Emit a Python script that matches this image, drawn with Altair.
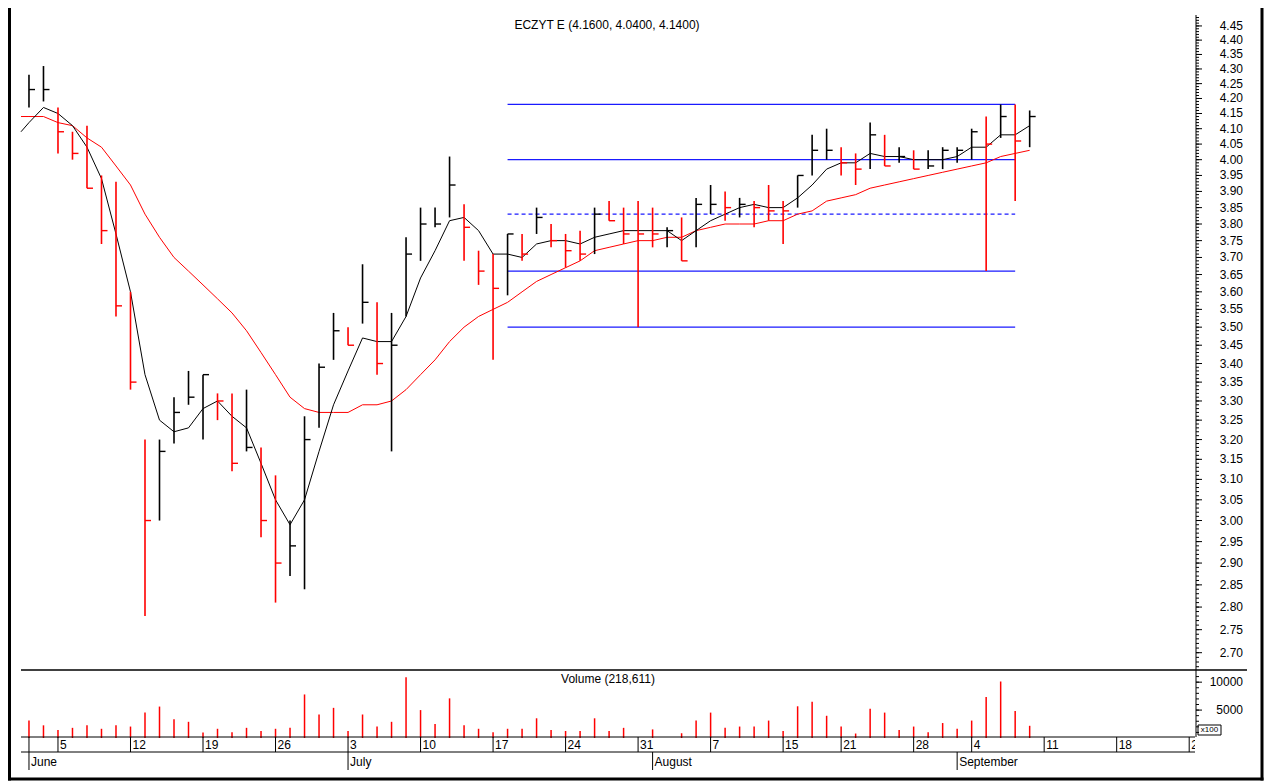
import altair as alt
import pandas as pd

# ---------------- data ----------------
# trading-day index 0 = 1 June, 69 = 8 September
highs = [4.28, 4.31, 4.17, 4.09, 4.11, 3.95, 3.93, 3.60, 3.20, 3.20,
         3.31, 3.38, 3.37, 3.32, 3.32, 3.33, 3.18, 3.11, 3.00, 3.26,
         3.40, 3.54, 3.50, 3.68, 3.57, 3.54, 3.76, 3.85, 3.85, 4.01,
         3.86, 3.72, 3.71, 3.77, 3.77, 3.85, 3.80, 3.77, 3.78, 3.85,
         3.87, 3.85, 3.87, 3.85, 3.79, 3.82, 3.88, 3.92, 3.90, 3.88,
         3.87, 3.92, 3.87, 3.95, 4.08, 4.10, 4.04, 4.02, 4.12, 4.08,
         4.04, 4.03, 4.03, 4.04, 4.04, 4.10, 4.14, 4.18, 4.18, 4.16]
lows = [4.17, 4.19, 4.02, 4.00, 3.91, 3.74, 3.53, 3.33, 2.78, 3.00,
        3.19, 3.29, 3.20, 3.25, 3.12, 3.17, 2.96, 2.81, 2.87, 2.84,
        3.23, 3.41, 3.45, 3.51, 3.37, 3.17, 3.53, 3.69, 3.79, 3.82,
        3.69, 3.62, 3.41, 3.59, 3.69, 3.77, 3.73, 3.67, 3.69, 3.71,
        3.81, 3.74, 3.50, 3.73, 3.73, 3.69, 3.73, 3.83, 3.81, 3.82,
        3.79, 3.81, 3.74, 3.85, 3.95, 4.00, 3.95, 3.92, 3.97, 3.98,
        3.99, 3.97, 3.97, 3.97, 3.99, 4.00, 3.66, 4.07, 3.87, 4.04]
closes = [4.23, 4.23, 4.09, 4.02, 3.91, 3.78, 3.56, 3.35, 3.00, 3.17,
          3.27, 3.31, 3.37, 3.30, 3.14, 3.18, 3.00, 2.90, 2.94, 3.20,
          3.39, 3.49, 3.45, 3.57, 3.40, 3.45, 3.71, 3.80, 3.80, 3.92,
          3.79, 3.66, 3.61, 3.77, 3.71, 3.82, 3.75, 3.72, 3.71, 3.83,
          3.81, 3.77, 3.77, 3.77, 3.78, 3.69, 3.86, 3.86, 3.85, 3.86,
          3.85, 3.84, 3.84, 3.95, 4.03, 4.03, 3.99, 3.97, 4.08, 3.98,
          4.01, 3.97, 3.98, 4.03, 4.03, 4.09, 4.05, 4.14, 4.06, 4.14]
dirs = ["u", "u", "d", "d", "d", "d", "d", "d", "d", "u",
        "u", "u", "u", "d", "d", "u", "d", "d", "u", "u",
        "u", "u", "d", "u", "d", "u", "u", "u", "u", "u",
        "d", "d", "d", "u", "d", "u", "d", "d", "d", "u",
        "d", "d", "d", "d", "u", "d", "u", "u", "d", "u",
        "d", "d", "d", "u", "u", "u", "d", "d", "u", "d",
        "u", "d", "u", "u", "u", "u", "d", "u", "d", "u"]
volumes = [3120, 2270, 1420, 1820, 2270, 1650, 2270, 2050, 4550, 5630,
           3360, 2900, 970, 1650, 1020, 1820, 1250, 1650, 1820, 7800,
           4210, 5400, 1250, 4210, 2050, 2900, 10900, 5000, 2500, 7100,
           2270, 1650, 1020, 1650, 1650, 3530, 1420, 1250, 1250, 3530,
           1250, 1820, 0, 1540, 0, 850, 3120, 4550, 1820, 2050,
           2050, 3120, 1250, 5680, 6480, 3980, 2050, 800, 5240, 4550,
           1420, 2050, 1020, 2680, 1650, 3120, 7340, 10120, 4830, 2186]
# moving averages: first value is at the left edge of the plot
ma_fast = [4.09,
           4.12, 4.17, 4.15, 4.11, 4.04, 3.94, 3.77, 3.60, 3.37, 3.25,
           3.22, 3.23, 3.28, 3.30, 3.26, 3.23, 3.14, 3.05, 2.99, 3.05,
           3.17, 3.29, 3.38, 3.47, 3.46, 3.46, 3.53, 3.64, 3.72, 3.81,
           3.82, 3.78, 3.71, 3.71, 3.70, 3.74, 3.75, 3.75, 3.74, 3.76,
           3.77, 3.78, 3.78, 3.78, 3.78, 3.75, 3.78, 3.81, 3.83, 3.85,
           3.86, 3.85, 3.85, 3.88, 3.92, 3.97, 3.99, 3.99, 4.02, 4.01,
           4.01, 4.00, 4.00, 4.00, 4.01, 4.04, 4.04, 4.08, 4.08, 4.11]
ma_slow = [4.14,
           4.14, 4.14, 4.12, 4.11, 4.07, 4.04, 3.98, 3.92, 3.83, 3.76,
           3.70, 3.66, 3.62, 3.58, 3.54, 3.49, 3.43, 3.37, 3.31, 3.28,
           3.27, 3.27, 3.27, 3.29, 3.29, 3.30, 3.33, 3.37, 3.41, 3.46,
           3.50, 3.53, 3.55, 3.57, 3.60, 3.63, 3.65, 3.67, 3.69, 3.72,
           3.73, 3.74, 3.75, 3.75, 3.76, 3.76, 3.78, 3.79, 3.80, 3.80,
           3.80, 3.81, 3.81, 3.83, 3.84, 3.87, 3.88, 3.89, 3.91, 3.92,
           3.93, 3.94, 3.95, 3.96, 3.97, 3.98, 3.99, 4.01, 4.02, 4.03]
level_values = [4.18, 4.00, 3.83, 3.66, 3.50]
level_dashed = [False, False, True, False, False]
level_start, level_end = 33, 68

week_idx = [2, 7, 12, 17, 22, 27, 32, 37, 42, 47, 52, 56, 61, 65, 70, 75, 80]
week_lbl = ["5", "12", "19", "26", "3", "10", "17", "24", "31", "7", "15",
            "21", "28", "4", "11", "18", "25"]
month_idx = [0, 22, 43, 64]
month_lbl = ["June", "July", "August", "September"]

price_lbl = ["2.70", "2.75", "2.80", "2.85", "2.90", "2.95", "3.00", "3.05",
             "3.10", "3.15", "3.20", "3.25", "3.30", "3.35", "3.40", "3.45",
             "3.50", "3.55", "3.60", "3.65", "3.70", "3.75", "3.80", "3.85",
             "3.90", "3.95", "4.00", "4.05", "4.10", "4.15", "4.20", "4.25",
             "4.30", "4.35", "4.40", "4.45"]
vol_lbl = ["5000", "10000"]

title_text = "ECZYT E (4.1600, 4.0400, 4.1400)"
vol_title = "Volume (218,611)"

# ---------------- tables ----------------
n = len(closes)
days = list(range(n))
bars = pd.DataFrame({"i": days, "high": highs, "low": lows, "close": closes,
                     "dir": dirs, "vol": volumes})
ma = pd.DataFrame({"i": [-0.55] + days, "fast": ma_fast, "slow": ma_slow})
levels = pd.DataFrame({"v": level_values, "dash": level_dashed,
                       "s": [level_start] * len(level_values),
                       "e": [level_end] * len(level_values)})
weeks = pd.DataFrame({"i": week_idx, "lbl": week_lbl})
months = pd.DataFrame({"i": month_idx, "lbl": month_lbl})
plab = pd.DataFrame({"v": [float(s) for s in price_lbl], "lbl": price_lbl})
pminor = pd.DataFrame({"v": [round(2.67 + 0.01 * k, 2) for k in range(182)]})
vlab = pd.DataFrame({"v": [float(s) for s in vol_lbl], "lbl": vol_lbl})
vminor = pd.DataFrame({"v": [1000.0 * k for k in range(1, 12)]})
one = pd.DataFrame({"k": [0]})

# ---------------- layout ----------------
W, H = 1174, 753
FONT = "Liberation Sans"
xs = alt.Scale(domain=[-0.55, 80.4], range=[0, W], nice=False, zero=False)
ps = alt.Scale(type="log", domain=[2.663, 4.489], range=[655, 0], nice=False)
vs = alt.Scale(domain=[0, 12000], range=[723, 656], nice=False, zero=False)
cs = alt.Scale(domain=["u", "d"], range=["#000000", "#ff0000"])

X = alt.X("i:Q", scale=xs, axis=None)


def P(f):
    return alt.Y(f + ":Q", scale=ps, axis=None)


def deco(x1, x2, y1, y2, color="black", sw=1.0):
    return alt.Chart(one).mark_rule(color=color, strokeWidth=sw).encode(
        x=alt.value(x1), x2=alt.value(x2), y=alt.value(y1), y2=alt.value(y2))


def label(s, x, y, size=12, align="center"):
    return alt.Chart(one).mark_text(text=s, font=FONT, fontSize=size, align=align,
                                    baseline="middle", color="black").encode(
        x=alt.value(x), y=alt.value(y))


hl = alt.Chart(bars).mark_rule(strokeWidth=1.6).encode(
    x=X, y=P("high"), y2="low",
    color=alt.Color("dir:N", scale=cs, legend=None))
ct = alt.Chart(bars).mark_rule(strokeWidth=1.4, x2Offset=6).encode(
    x=X, x2="i", y=P("close"),
    color=alt.Color("dir:N", scale=cs, legend=None))
fast = alt.Chart(ma).mark_line(color="#000000", strokeWidth=1).encode(x=X, y=P("fast"))
slow = alt.Chart(ma).mark_line(color="#ff0000", strokeWidth=1).encode(x=X, y=P("slow"))
lev_solid = alt.Chart(levels).transform_filter("!datum.dash").mark_rule(
    color="#1a1aff", strokeWidth=1.3).encode(
    x=alt.X("s:Q", scale=xs, axis=None), x2="e", y=P("v"))
lev_dash = alt.Chart(levels).transform_filter("datum.dash").mark_rule(
    color="#1a1aff", strokeWidth=1.3, strokeDash=[4, 3]).encode(
    x=alt.X("s:Q", scale=xs, axis=None), x2="e", y=P("v"))

vol = alt.Chart(bars).mark_rule(color="#ff0000", strokeWidth=1.5).encode(
    x=X, y=alt.Y("vol:Q", scale=vs, axis=None), y2=alt.datum(0))

# right-hand axis
p_minor = alt.Chart(pminor).mark_rule(color="black", strokeWidth=1).encode(
    x=alt.value(1175), x2=alt.value(1178), y=P("v"))
p_major = alt.Chart(plab).mark_rule(color="black", strokeWidth=1).encode(
    x=alt.value(1175), x2=alt.value(1181), y=P("v"))
p_text = alt.Chart(plab).mark_text(font=FONT, fontSize=12, align="right",
                                   baseline="middle", color="black").encode(
    x=alt.value(1222), y=P("v"), text="lbl:N")
v_minor = alt.Chart(vminor).mark_rule(color="black", strokeWidth=1).encode(
    x=alt.value(1175), x2=alt.value(1178), y=alt.Y("v:Q", scale=vs, axis=None))
v_major = alt.Chart(vlab).mark_rule(color="black", strokeWidth=1).encode(
    x=alt.value(1175), x2=alt.value(1181), y=alt.Y("v:Q", scale=vs, axis=None))
v_text = alt.Chart(vlab).mark_text(font=FONT, fontSize=12, align="right",
                                   baseline="middle", color="black").encode(
    x=alt.value(1222), y=alt.Y("v:Q", scale=vs, axis=None), text="lbl:N")

# date axis rows
wk_ticks = alt.Chart(weeks).mark_rule(color="black", strokeWidth=1).encode(
    x=X, y=alt.value(722), y2=alt.value(737))
wk_text = alt.Chart(weeks).mark_text(font=FONT, fontSize=12, align="left",
                                     baseline="middle", dx=2, clip=True,
                                     color="black").encode(
    x=X, y=alt.value(730), text="lbl:N")
mo_ticks = alt.Chart(months).mark_rule(color="black", strokeWidth=1).encode(
    x=X, y=alt.value(737), y2=alt.value(755))
mo_text = alt.Chart(months).mark_text(font=FONT, fontSize=12, align="left",
                                      baseline="middle", dx=2,
                                      color="black").encode(
    x=X, y=alt.value(747), text="lbl:N")
first_tick = alt.Chart(months).transform_filter("datum.i == 0").mark_rule(
    color="black", strokeWidth=1).encode(x=X, y=alt.value(722), y2=alt.value(737))

layers = [
    lev_solid, lev_dash, slow, fast, hl, ct, vol,
    deco(1175, 1175, 0, 722),            # axis line
    deco(0, 1226, 655, 655, sw=1.5),     # price / volume separator
    deco(0, W, 722, 722), deco(0, W, 737, 737),
    p_minor, p_major, p_text, v_minor, v_major, v_text,
    wk_ticks, wk_text, mo_ticks, mo_text, first_tick,
    label(title_text, 586, 10),
    label(vol_title, 587, 664),
    # x100 box
    deco(1177, 1200, 710, 710), deco(1177, 1200, 720, 720),
    deco(1177, 1177, 710, 720), deco(1200, 1200, 710, 720),
    label("x100", 1188.5, 715, size=8),
    # outer frame
    deco(-11.5, -11.5, -7, 765.5, sw=3),
    deco(1241, 1241, -7, 765.5, sw=3),
    deco(-13, 1242.5, 764, 764, sw=3),
]

chart = alt.layer(*layers).resolve_scale(y="independent").properties(
    width=W, height=H,
    padding={"left": 13, "top": 7, "right": 71, "bottom": 14},
    autosize=alt.AutoSizeParams(type="none"),
).configure_view(stroke=None)

chart.save("out.html", embed_options={"renderer": "svg", "actions": False})
